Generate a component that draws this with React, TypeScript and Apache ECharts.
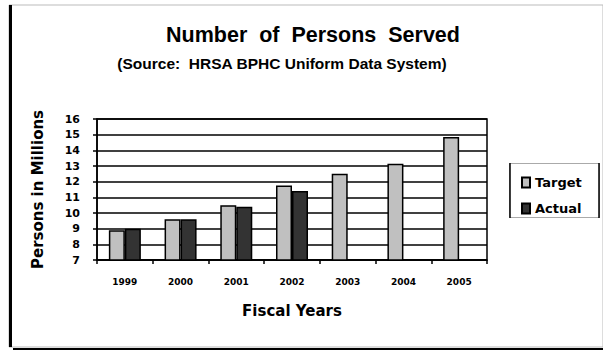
import React, { useEffect, useRef } from "react";
import * as echarts from "echarts";

const years = ["1999", "2000", "2001", "2002", "2003", "2004", "2005"];
const targetValues = [8.9, 9.6, 10.5, 11.75, 12.5, 13.15, 14.85];
const actualValues: (number | null)[] = [9.0, 9.6, 10.4, 11.4, null, null, null];
const yTicks = { min: 7, max: 16, interval: 1 };

export default function App() {
  const ref = useRef<HTMLDivElement>(null);
  useEffect(() => {
    if (!ref.current) return;
    const chart = echarts.init(ref.current, null, { renderer: "svg" });
    const wide = "DejaVu Sans";
    const arial = "Liberation Sans, Arial, sans-serif";
    chart.setOption({
      animation: false,
      backgroundColor: "#fff",
      title: [
        {
          text: "Number  of  Persons  Served",
          left: 308,
          top: 19,
          textAlign: "center",
          textStyle: { fontFamily: arial, fontSize: 21.5, fontWeight: "bold", color: "#000" },
        },
        {
          text: "(Source:  HRSA BPHC Uniform Data System)",
          left: 277,
          top: 50,
          textAlign: "center",
          textStyle: { fontFamily: arial, fontSize: 15.5, fontWeight: "bold", color: "#000" },
        },
      ],
      grid: {
        left: 97,
        right: 116,
        top: 119,
        bottom: 90,
        show: true,
        borderColor: "#000",
        borderWidth: 1.5,
        backgroundColor: "transparent",
      },
      legend: {
        orient: "vertical",
        left: 516,
        top: 171,
        itemWidth: 8,
        itemHeight: 10,
        itemGap: 13,
        icon: "rect",
        textStyle: { fontFamily: wide, fontSize: 13, fontWeight: "bold", color: "#000" },
        data: ["Target", "Actual"],
      },
      xAxis: {
        type: "category",
        data: years,
        axisLine: { lineStyle: { color: "#000", width: 1.5 } },
        axisTick: { show: true, length: 4, lineStyle: { color: "#000", width: 1.5 } },
        axisLabel: { fontFamily: wide, fontSize: 9, fontWeight: "bold", color: "#000", margin: 17 },
        name: "Fiscal Years",
        nameLocation: "middle",
        nameGap: 43,
        nameTextStyle: { fontFamily: wide, fontSize: 15, fontWeight: "bold", color: "#000" },
      },
      yAxis: {
        type: "value",
        min: yTicks.min,
        max: yTicks.max,
        interval: yTicks.interval,
        axisLine: { show: true, lineStyle: { color: "#000", width: 1.5 } },
        axisTick: { show: true, length: 4, lineStyle: { color: "#000", width: 1.5 } },
        splitLine: { show: true, lineStyle: { color: "#000", width: 1.5 } },
        axisLabel: { fontFamily: wide, fontSize: 11, fontWeight: "bold", color: "#000", margin: 17 },
        name: "Persons in Millions",
        nameLocation: "middle",
        nameGap: 52,
        nameTextStyle: { fontFamily: wide, fontSize: 15, fontWeight: "bold", color: "#000" },
      },
      series: [
        {
          name: "Target",
          type: "bar",
          data: targetValues,
          barWidth: 16,
          barGap: "0%",
          itemStyle: { color: "#c0c0c0", borderColor: "#000", borderWidth: 1.5 },
        },
        {
          name: "Actual",
          type: "bar",
          data: actualValues,
          barWidth: 16,
          barGap: "0%",
          itemStyle: { color: "#333333", borderColor: "#000", borderWidth: 1.5 },
        },
      ],
      graphic: [
        { type: "rect", shape: { x: 9, y: 5, width: 594, height: 342 }, style: { fill: "none", stroke: "#bbb", lineWidth: 1 }, z: 0 },
        { type: "rect", shape: { x: 9, y: 5, width: 3, height: 342 }, style: { fill: "#000" } },
        { type: "line", shape: { x1: 13, y1: 349, x2: 603, y2: 349 }, style: { stroke: "#000", lineWidth: 2 } },
        { type: "rect", shape: { x: 509.5, y: 163.5, width: 90, height: 54 }, style: { fill: "none", stroke: "#aaa", lineWidth: 1 } },
        { type: "line", shape: { x1: 510, y1: 163, x2: 510, y2: 218 }, style: { stroke: "#000", lineWidth: 1.5 } },
        { type: "line", shape: { x1: 599, y1: 163, x2: 599, y2: 218 }, style: { stroke: "#000", lineWidth: 1.5 } },
      ],
    });
    return () => chart.dispose();
  }, []);
  return <div ref={ref} style={{ width: 603, height: 350, position: "absolute", left: 0, top: 0 }} />;
}
